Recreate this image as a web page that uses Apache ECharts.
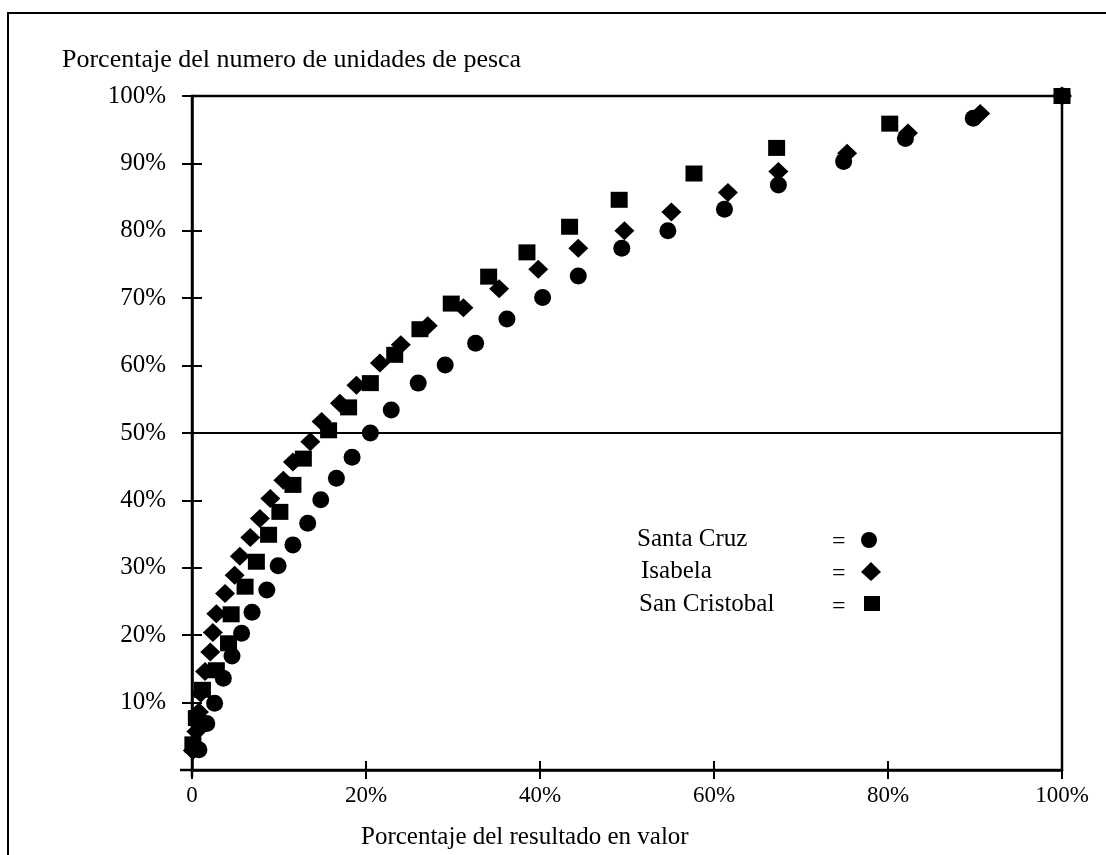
<!DOCTYPE html>
<html>
<head>
<meta charset="utf-8">
<script src="https://cdn.jsdelivr.net/npm/echarts@6/dist/echarts.min.js"></script>
<style>
html,body{margin:0;padding:0;background:#fff;}
#chart{width:1106px;height:855px;}
</style>
</head>
<body>
<div id="chart"></div>
<script>
// ---- Data (percent values) ----
const seriesNames = ['Santa Cruz', 'Isabela', 'San Cristobal'];

const santaCruzX = [0.8, 1.7, 2.6, 3.6, 4.6, 5.7, 6.9, 8.6, 9.9, 11.6, 13.3, 14.8, 16.6, 18.4, 20.5, 22.9, 26.0, 29.1, 32.6, 36.2, 40.3, 44.4, 49.4, 54.7, 61.2, 67.4, 74.9, 82.0, 89.8, 100];
const santaCruzY = [3.0, 6.9, 9.9, 13.6, 16.9, 20.3, 23.4, 26.7, 30.3, 33.4, 36.6, 40.1, 43.3, 46.4, 50.0, 53.4, 57.4, 60.1, 63.3, 66.9, 70.1, 73.3, 77.4, 80.0, 83.2, 86.8, 90.3, 93.7, 96.7, 100];

const isabelaX = [0.1, 0.5, 0.8, 1.0, 1.5, 2.1, 2.4, 2.8, 3.8, 4.9, 5.5, 6.7, 7.8, 9.0, 10.5, 11.6, 13.6, 14.9, 17.0, 18.9, 21.6, 24.0, 27.1, 31.2, 35.3, 39.8, 44.4, 49.7, 55.1, 61.6, 67.4, 75.3, 82.3, 90.6, 100];
const isabelaY = [2.9, 5.7, 8.6, 11.4, 14.6, 17.5, 20.4, 23.2, 26.2, 28.9, 31.7, 34.5, 37.3, 40.3, 43.0, 45.7, 48.7, 51.7, 54.4, 57.1, 60.4, 63.1, 65.9, 68.6, 71.4, 74.3, 77.4, 80.0, 82.8, 85.7, 88.8, 91.5, 94.5, 97.4, 100];

const sanCristobalX = [0.1, 0.5, 1.2, 2.8, 4.2, 4.5, 6.1, 7.4, 8.8, 10.1, 11.6, 12.8, 15.7, 18.0, 20.5, 23.3, 26.2, 29.8, 34.1, 38.5, 43.4, 49.1, 57.7, 67.2, 80.2, 100];
const sanCristobalY = [3.8, 7.7, 11.9, 14.8, 18.8, 23.1, 27.2, 30.9, 34.9, 38.3, 42.3, 46.2, 50.4, 53.8, 57.4, 61.6, 65.4, 69.2, 73.2, 76.8, 80.6, 84.6, 88.5, 92.3, 95.9, 100];

const xTickValues = [0, 20, 40, 60, 80, 100];
const yTickValues = [10, 20, 30, 40, 50, 60, 70, 80, 90, 100];
const referenceLineY = 50;

const yTitle = 'Porcentaje del numero de unidades de pesca';
const xTitle = 'Porcentaje del resultado en valor';

// ---- Helpers ----
function pairs(xs, ys) { return xs.map((x, i) => [x, ys[i]]); }
const FONT = '"Liberation Serif", "Times New Roman", serif';
const BLACK = '#000';

const chart = echarts.init(document.getElementById('chart'), null, {renderer: 'canvas'});

const option = {
  backgroundColor: '#fff',
  animation: false,
  grid: {
    left: 192, right: 44, top: 96, bottom: 85,
    show: true, borderColor: BLACK, borderWidth: 2.5, backgroundColor: 'transparent'
  },
  xAxis: [
    {
      type: 'value', min: 0, max: 100, interval: 20,
      axisLine: {show: true, onZero: false, lineStyle: {color: BLACK, width: 2.5}},
      axisTick: {show: true, inside: false, length: 9, lineStyle: {color: BLACK, width: 2}},
      splitLine: {show: false},
      axisLabel: {
        color: BLACK, fontFamily: FONT, fontSize: 23, margin: 14,
        formatter: v => (xTickValues.indexOf(v) < 0 ? '' : (v === 0 ? '0' : v + '%'))
      }
    },
    {
      type: 'value', min: 0, max: 100, interval: 20, position: 'bottom',
      axisLine: {show: false},
      axisTick: {show: true, inside: true, length: 9, lineStyle: {color: BLACK, width: 2}},
      splitLine: {show: false}, axisLabel: {show: false}
    }
  ],
  yAxis: [
    {
      type: 'value', min: 0, max: 100, interval: 10,
      axisLine: {show: true, onZero: false, lineStyle: {color: BLACK, width: 2.5}},
      axisTick: {show: true, inside: false, length: 10, lineStyle: {color: BLACK, width: 2}},
      splitLine: {show: false},
      axisLabel: {
        color: BLACK, fontFamily: FONT, fontSize: 25, margin: 26,
        formatter: v => (yTickValues.indexOf(v) < 0 ? '' : v + '%')
      }
    },
    {
      type: 'value', min: 0, max: 100, interval: 10, position: 'left',
      axisLine: {show: false},
      axisTick: {show: true, inside: true, length: 10, lineStyle: {color: BLACK, width: 2}},
      splitLine: {show: false}, axisLabel: {show: false}
    }
  ],
  series: [
    {
      name: seriesNames[0], type: 'scatter', xAxisIndex: 0, yAxisIndex: 0,
      symbol: 'circle', symbolSize: 17,
      itemStyle: {color: BLACK, opacity: 1},
      data: pairs(santaCruzX, santaCruzY),
      markLine: {
        silent: true, symbol: 'none', label: {show: false},
        lineStyle: {color: BLACK, type: 'solid', width: 2, opacity: 1},
        data: [{yAxis: referenceLineY}]
      }
    },
    {
      name: seriesNames[1], type: 'scatter', xAxisIndex: 0, yAxisIndex: 0,
      symbol: 'diamond', symbolSize: [20, 19],
      itemStyle: {color: BLACK, opacity: 1},
      data: pairs(isabelaX, isabelaY)
    },
    {
      name: seriesNames[2], type: 'scatter', xAxisIndex: 0, yAxisIndex: 0,
      symbol: 'rect', symbolSize: [17, 16],
      itemStyle: {color: BLACK, opacity: 1},
      data: pairs(sanCristobalX, sanCristobalY)
    }
  ],
  graphic: [
    // outer frame of the figure
    {type: 'polyline', silent: true, shape: {points: [[8, 860], [8, 13], [1110, 13]]},
     style: {stroke: BLACK, lineWidth: 2, fill: null}},
    // small axis overhangs seen in the reference
    {type: 'line', silent: true, shape: {x1: 180, y1: 770, x2: 192, y2: 770}, style: {stroke: BLACK, lineWidth: 2.5}},
    {type: 'line', silent: true, shape: {x1: 192, y1: 770, x2: 192, y2: 777}, style: {stroke: BLACK, lineWidth: 2.5}},
    // axis titles
    {type: 'text', left: 62, top: 47, silent: true,
     style: {text: yTitle, font: '26px ' + FONT, fill: BLACK}},
    {type: 'text', left: 361, top: 825, silent: true,
     style: {text: xTitle, font: '25px ' + FONT, fill: BLACK}},
    // legend block
    {type: 'text', left: 637, top: 527, silent: true, style: {text: seriesNames[0], font: '25px ' + FONT, fill: BLACK}},
    {type: 'text', left: 641, top: 559, silent: true, style: {text: seriesNames[1], font: '25px ' + FONT, fill: BLACK}},
    {type: 'text', left: 639, top: 592, silent: true, style: {text: seriesNames[2], font: '25px ' + FONT, fill: BLACK}},
    {type: 'text', left: 832, top: 530, silent: true, style: {text: '=', font: '24px ' + FONT, fill: BLACK}},
    {type: 'text', left: 832, top: 562, silent: true, style: {text: '=', font: '24px ' + FONT, fill: BLACK}},
    {type: 'text', left: 832, top: 595, silent: true, style: {text: '=', font: '24px ' + FONT, fill: BLACK}},
    {type: 'circle', silent: true, shape: {cx: 869, cy: 540, r: 8}, style: {fill: BLACK}},
    {type: 'polygon', silent: true, shape: {points: [[871, 562], [881, 572], [871, 581], [861, 572]]}, style: {fill: BLACK}},
    {type: 'rect', silent: true, shape: {x: 864, y: 596, width: 16, height: 15}, style: {fill: BLACK}}
  ]
};

chart.setOption(option);
</script>
</body>
</html>
